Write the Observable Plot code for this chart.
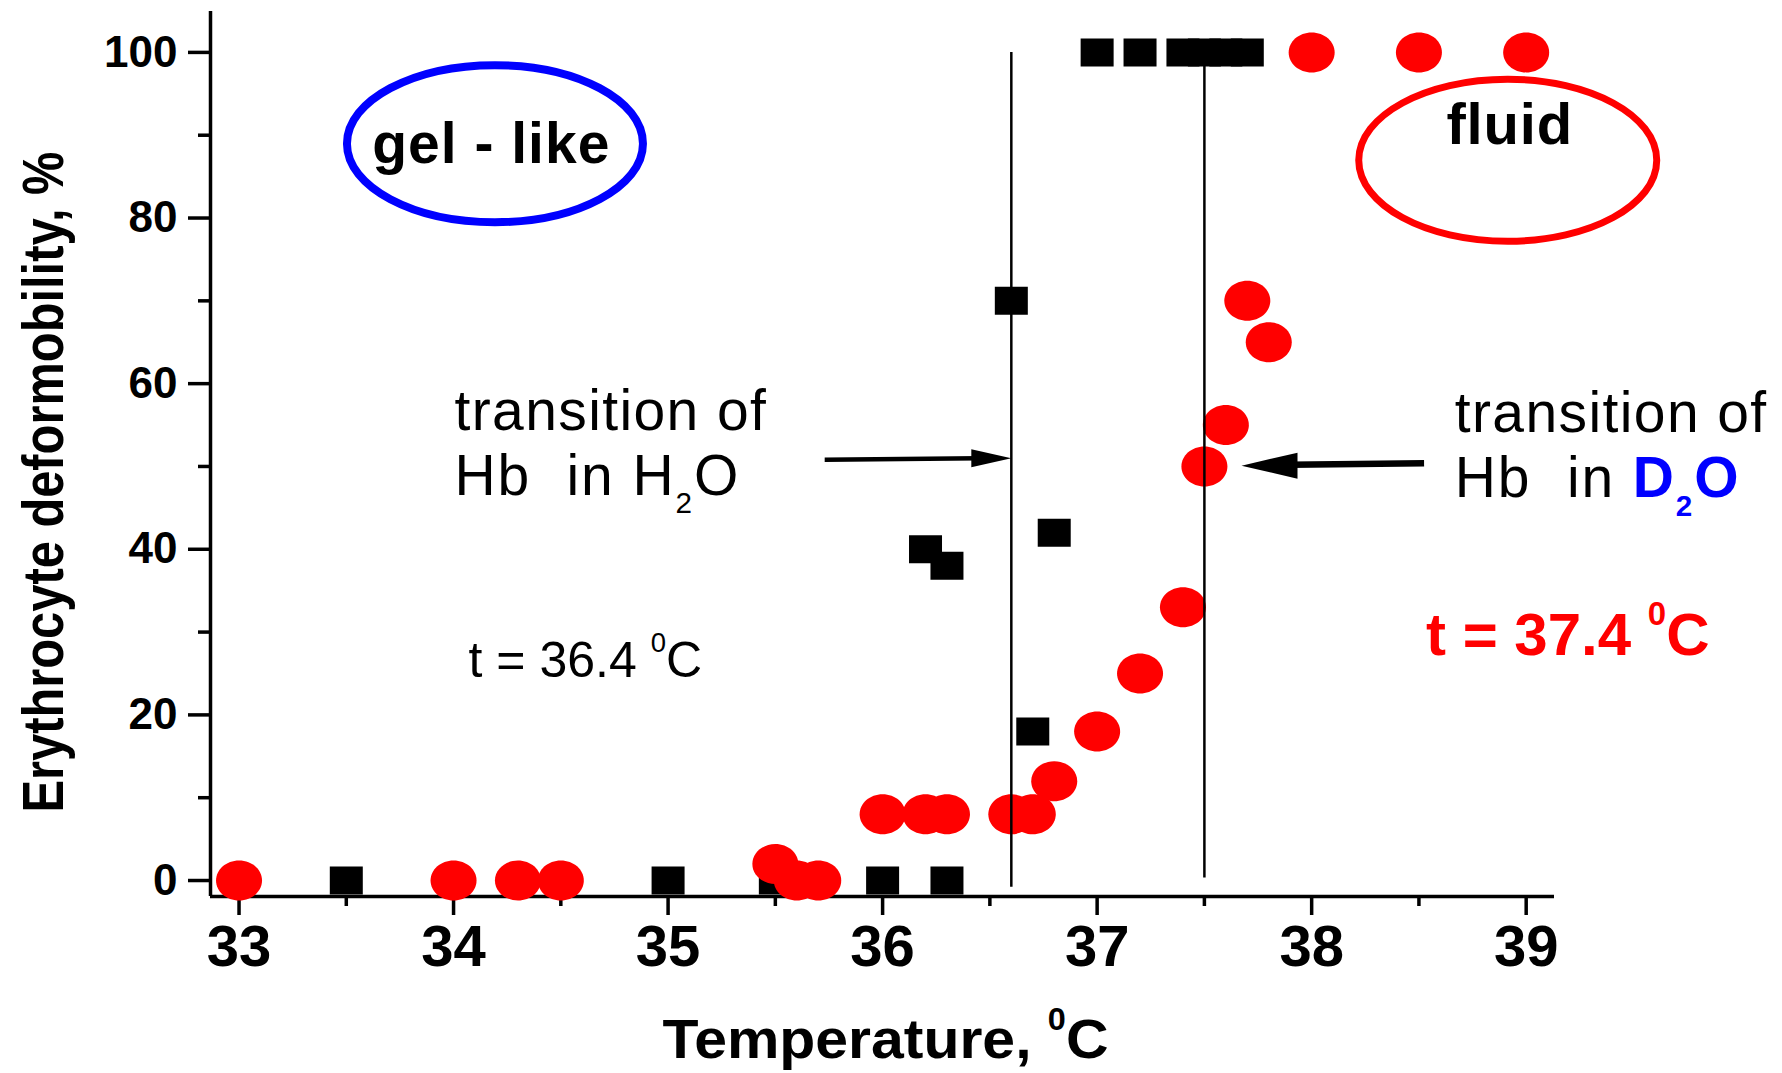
<!DOCTYPE html>
<html>
<head>
<meta charset="utf-8">
<script src="https://cdn.jsdelivr.net/npm/d3@7"></script>
<script src="https://cdn.jsdelivr.net/npm/@observablehq/plot@0.6"></script>
<style>
  html, body { margin: 0; padding: 0; background: #fff; }
  svg text { white-space: pre; }
</style>
</head>
<body>
<div id="chart"></div>
<script>
// ---------- data ----------
const h2oTemp = [33.5, 35, 35.5, 36, 36.3, 36.2, 36.3, 36.6, 36.7, 36.8, 37, 37.2, 37.4, 37.5, 37.6, 37.7];
const h2oDeform = [0, 0, 0, 0, 0, 40, 38, 70, 18, 42, 100, 100, 100, 100, 100, 100];

const d2oTemp = [33, 34, 34.3, 34.5, 35.5, 35.6, 35.7, 36, 36.2, 36.3, 36.6, 36.7, 36.8, 37, 37.2, 37.4, 37.5, 37.6, 37.7, 37.8, 38, 38.5, 39];
const d2oDeform = [0, 0, 0, 0, 2, 0, 0, 8, 8, 8, 8, 8, 12, 18, 25, 33, 50, 55, 70, 65, 100, 100, 100];

const xTicks = [33, 34, 35, 36, 37, 38, 39];
const xMinorTicks = [33.5, 34.5, 35.5, 36.5, 37.5, 38.5];
const yTicks = [0, 20, 40, 60, 80, 100];
const yMinorTicks = [10, 30, 50, 70, 90];

const transitionTemp = [36.6, 37.5];
const transitionLow = [-0.8, 0.3];
const transitionHigh = [100, 100];

const xDomain = [32.867, 39.132];
const yDomain = [-1.93, 104.94];

// ---------- tables built from the arrays ----------
const h2o = h2oTemp.map((t, i) => ({t, d: h2oDeform[i]}));
const d2o = d2oTemp.map((t, i) => ({t, d: d2oDeform[i]}));
const transitions = transitionTemp.map((t, i) => ({t, lo: transitionLow[i], hi: transitionHigh[i]}));

// annotations (data coordinates)
const arrowsH2O = [{x1: 35.73, y1: 50.8, x2: 36.45, y2: 51.0, tx: 36.6, ty: 51.0}];
const arrowsD2O = [{x1: 38.524, y1: 50.4, x2: 37.9, y2: 50.2, tx: 37.673, ty: 50.1}];
const blueOval = [{x: 34.193, y: 88.98}];
const redOval = [{x: 38.914, y: 86.98}];

// ---------- custom symbols ----------
function ellipseSym(rx, ry) {
  return {draw(c) {
    const kx = rx * 0.5523, ky = ry * 0.5523;
    c.moveTo(rx, 0);
    c.bezierCurveTo(rx, ky, kx, ry, 0, ry);
    c.bezierCurveTo(-kx, ry, -rx, ky, -rx, 0);
    c.bezierCurveTo(-rx, -ky, -kx, -ry, 0, -ry);
    c.bezierCurveTo(kx, -ry, rx, -ky, rx, 0);
    c.closePath();
  }};
}
function rectSym(hw, hh) {
  return {draw(c) {
    c.moveTo(-hw, -hh); c.lineTo(hw, -hh); c.lineTo(hw, hh); c.lineTo(-hw, hh); c.closePath();
  }};
}
function headSym(len, half, dir) {
  return {draw(c) {
    c.moveTo(0, 0); c.lineTo(-dir * len, -half); c.lineTo(-dir * len, half); c.closePath();
  }};
}

const FONT = "'Liberation Sans', Arial, Helvetica, sans-serif";

const chart = Plot.plot({
  width: 1782,
  height: 1073,
  marginLeft: 210,
  marginRight: 228,
  marginTop: 11,
  marginBottom: 177,
  x: {domain: xDomain},
  y: {domain: yDomain},
  style: {fontFamily: FONT, background: "#fff", color: "#000"},
  marks: [
    // axis lines
    Plot.ruleX([xDomain[0]], {stroke: "#000", strokeWidth: 3.5}),
    Plot.ruleY([yDomain[0]], {stroke: "#000", strokeWidth: 3.5}),
    // axes
    Plot.axisX({ticks: xTicks, tickSize: 19, tickPadding: 9, fontSize: 58, fontWeight: "bold", strokeWidth: 3.5, tickFormat: d => String(d), label: null}),
    Plot.axisX({ticks: xMinorTicks, tickSize: 10, strokeWidth: 3.5, tickFormat: () => "", label: null}),
    Plot.axisY({ticks: yTicks, tickSize: 22, tickPadding: 11, fontSize: 44, fontWeight: "bold", strokeWidth: 3.5, tickFormat: d => String(d), label: null}),
    Plot.axisY({ticks: yMinorTicks, tickSize: 12, strokeWidth: 3.5, tickFormat: () => "", label: null}),
    // data
    Plot.dot(h2o, {x: "t", y: "d", r: 1, symbol: rectSym(16.5, 14), fill: "#000", stroke: "none"}),
    Plot.dot(d2o, {x: "t", y: "d", r: 1, symbol: ellipseSym(23, 20), fill: "#ff0000", stroke: "none"}),
    // transition lines
    Plot.ruleX(transitions, {x: "t", y1: "lo", y2: "hi", stroke: "#000", strokeWidth: 2.5}),
    // arrows
    Plot.link(arrowsH2O, {x1: "x1", y1: "y1", x2: "x2", y2: "y2", stroke: "#000", strokeWidth: 4.5}),
    Plot.dot(arrowsH2O, {x: "tx", y: "ty", r: 1, symbol: headSym(40, 9, 1), fill: "#000", stroke: "none"}),
    Plot.link(arrowsD2O, {x1: "x1", y1: "y1", x2: "x2", y2: "y2", stroke: "#000", strokeWidth: 6.5}),
    Plot.dot(arrowsD2O, {x: "tx", y: "ty", r: 1, symbol: headSym(56, 13, -1), fill: "#000", stroke: "none"}),
    // ovals
    Plot.dot(blueOval, {x: "x", y: "y", r: 1, symbol: ellipseSym(148, 78.5), fill: "none", stroke: "#0000ff", strokeWidth: 8}),
    Plot.dot(redOval, {x: "x", y: "y", r: 1, symbol: ellipseSym(149, 81), fill: "none", stroke: "#ff0000", strokeWidth: 7}),
    // texts
    Plot.text([{x: 34.176, y: 88.8, s: "gel - like"}], {x: "x", y: "y", text: "s", fontSize: 57, fontWeight: "bold", fill: "#000", textAnchor: "middle"}),
    Plot.text([{x: 38.923, y: 91.16, s: "fluid"}], {x: "x", y: "y", text: "s", fontSize: 58, fontWeight: "bold", fill: "#000", textAnchor: "middle"}),
    Plot.text([{x: 34.004, y: 56.55, s: "transition of"}, {x: 34.004, y: 48.81, s: "Hb  in H_{2}O"}],
      {x: "x", y: "y", text: "s", fontSize: 57, fill: "#000", textAnchor: "start"}),
    Plot.text([{x: 38.667, y: 56.34, s: "transition of"}, {x: 38.667, y: 48.47, s: "Hb  in «D_{2}O»"}],
      {x: "x", y: "y", text: "s", fontSize: 57, fill: "#000", textAnchor: "start"}),
    Plot.text([{x: 34.07, y: 26.54, s: "t = 36.4 ^{0}C"}], {x: "x", y: "y", text: "s", fontSize: 50, fill: "#000", textAnchor: "start"}),
    Plot.text([{x: 38.533, y: 29.59, s: "t = 37.4 ^{0}C"}], {x: "x", y: "y", text: "s", fontSize: 60, fontWeight: "bold", fill: "#ff0000", textAnchor: "start"}),
    // axis titles
    Plot.text(["Temperature, ^{0}C"], {frameAnchor: "bottom", text: d => d, fontSize: 56, fontWeight: "bold", fill: "#000", textAnchor: "middle", dx: 3, dy: 161}),
    Plot.text(["Erythrocyte deformobility, %"], {frameAnchor: "left", text: d => d, fontSize: 57, fontWeight: "bold", fill: "#000", textAnchor: "middle", rotate: -90, dx: -166, dy: 28})
  ]
});

document.getElementById("chart").appendChild(chart);

// ---------- rich text: sub/superscripts and coloured segment ----------
const NS = "http://www.w3.org/2000/svg";
function rich(el) {
  const s = el.textContent;
  if (!/(_\{|\^\{|«)/.test(s)) return;
  const fs = parseFloat(getComputedStyle(el).fontSize);
  while (el.firstChild) el.removeChild(el.firstChild);
  let shift = 0;
  const add = (str, o) => {
    const t = document.createElementNS(NS, "tspan");
    t.textContent = str;
    const target = o.shift || 0;
    const dy = target - shift;
    if (dy) t.setAttribute("dy", dy.toFixed(2));
    shift = target;
    if (o.size) t.setAttribute("font-size", o.size.toFixed(2));
    if (o.bold) t.setAttribute("font-weight", "bold");
    if (o.fill) t.setAttribute("fill", o.fill);
    el.appendChild(t);
  };
  for (const part of s.split(/(«[^»]*»)/)) {
    if (!part) continue;
    const hi = part.startsWith("«");
    const body = hi ? part.slice(1, -1) : part;
    const base = hi ? {bold: true, fill: "#0000ff"} : {};
    for (const seg of body.split(/(_\{[^}]*\}|\^\{[^}]*\})/)) {
      if (!seg) continue;
      if (seg.startsWith("_{")) add(seg.slice(2, -1), {...base, size: fs * 0.52, shift: fs * 0.32});
      else if (seg.startsWith("^{")) add(seg.slice(2, -1), {...base, size: fs * 0.55, shift: -fs * 0.5});
      else add(seg, {...base, shift: 0});
    }
  }
}
chart.querySelectorAll("text").forEach(el => {
  const raw = el.textContent;
  rich(el);
  const s = el.textContent;
  if (s === "Erythrocyte deformobility, %") {
    el.setAttribute("textLength", "661");
    el.setAttribute("lengthAdjust", "spacingAndGlyphs");
  }
  if (s === "Temperature, 0C") {
    el.setAttribute("textLength", "446");
    el.setAttribute("lengthAdjust", "spacingAndGlyphs");
  }
  if (s === "transition of") el.style.letterSpacing = "1.4px";
  if (raw.startsWith("Hb  in")) el.style.letterSpacing = "1.9px";
  if (s === "gel - like") el.style.letterSpacing = "1px";
  if (s === "fluid") el.style.letterSpacing = "0.8px";
});
</script>
</body>
</html>
